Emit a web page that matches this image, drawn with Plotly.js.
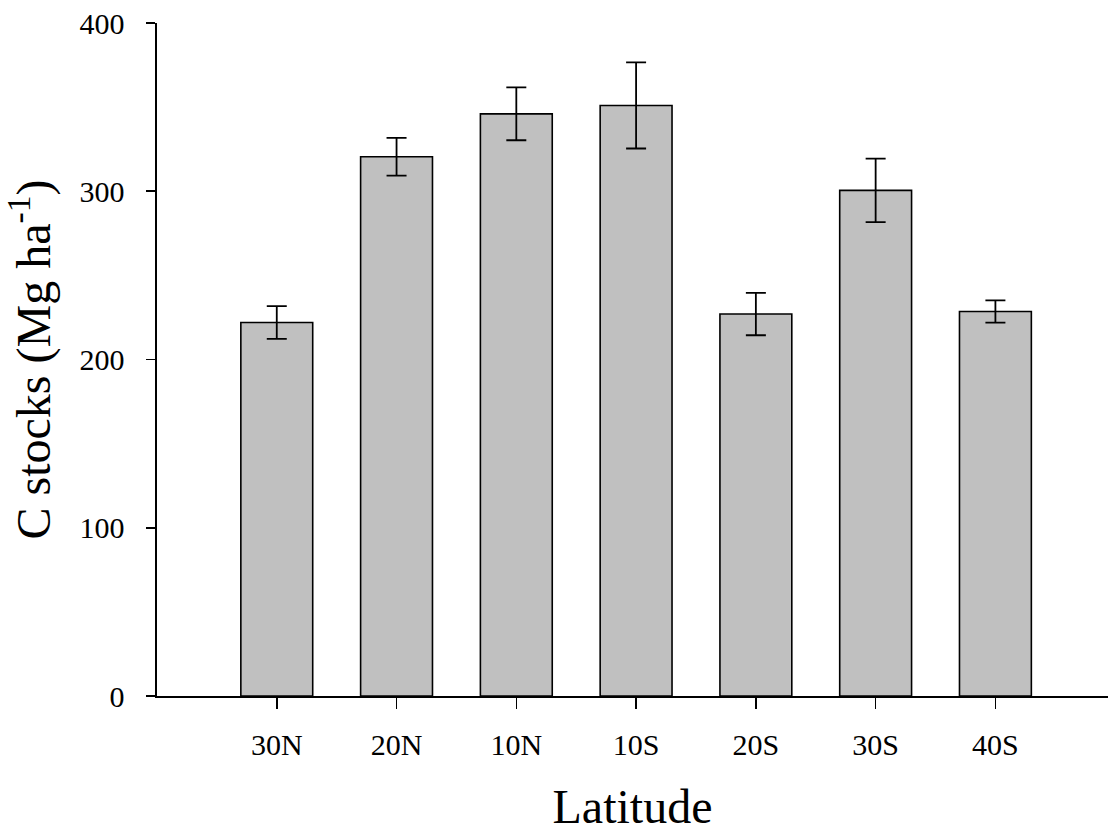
<!DOCTYPE html>
<html>
<head>
<meta charset="utf-8">
<script src="https://cdn.plot.ly/plotly-3.0.1.min.js"></script>
<style>html,body{margin:0;padding:0;background:#fff;}#chart{width:1108px;height:836px;}</style>
</head>
<body>
<div id="chart"></div>
<script>
const categories = ['30N', '20N', '10N', '10S', '20S', '30S', '40S'];
const cStocks = [222, 320.5, 346, 351, 227, 300.5, 228.5];
const cStocksErr = [9.7, 11.2, 15.7, 25.6, 12.6, 18.9, 6.6];
const yTickVals = [0, 100, 200, 300, 400];

const font = 'Liberation Serif, Times New Roman, serif';

const trace = {
  type: 'bar',
  x: categories,
  y: cStocks,
  width: 0.6,
  marker: {color: '#c0c0c0', line: {color: '#000', width: 1.6}},
  error_y: {type: 'data', array: cStocksErr, visible: true, color: '#000', thickness: 1.8, width: 10}
};

const layout = {
  width: 1108, height: 836,
  margin: {l: 157, r: 0, t: 23, b: 140},
  paper_bgcolor: '#fff', plot_bgcolor: '#fff',
  showlegend: false,
  font: {family: font, color: '#000'},
  xaxis: {
    type: 'category',
    range: [-1, 6.94],
    showline: true, linecolor: '#000', linewidth: 1.6,
    ticks: 'outside', ticklen: 11, tickwidth: 1.6, tickcolor: '#000',
    tickfont: {family: font, size: 30, color: '#000'},
    ticklabelstandoff: 10,
    showgrid: false, zeroline: false,
    title: {text: 'Latitude', font: {family: font, size: 48, color: '#000'}, standoff: 30}
  },
  yaxis: {
    range: [0, 400],
    tickvals: yTickVals,
    showline: true, linecolor: '#000', linewidth: 1.6,
    ticks: 'outside', ticklen: 9, tickwidth: 1.6, tickcolor: '#000',
    tickfont: {family: font, size: 30, color: '#000'},
    ticklabelstandoff: 16,
    showgrid: false, zeroline: false,
    title: {text: 'C stocks (Mg ha<sup>-1</sup>)', font: {family: font, size: 48, color: '#000'}, standoff: 22}
  },
  bargap: 0.4
};

Plotly.newPlot('chart', [trace], layout, {displayModeBar: false, staticPlot: true});
</script>
</body>
</html>
